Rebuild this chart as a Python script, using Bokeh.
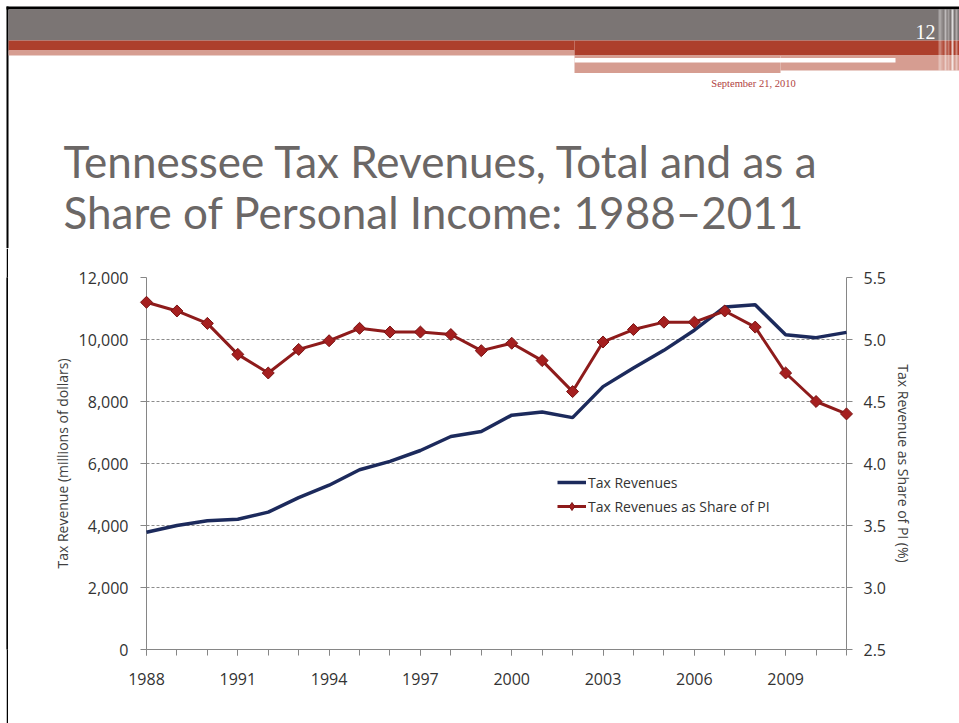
import math
from bokeh.plotting import figure
from bokeh.models import (Range1d, LinearAxis, FixedTicker, Legend, LegendItem,
                          NumeralTickFormatter, ColumnDataSource, Spacer)
from bokeh.layouts import column, row
from bokeh.embed import file_html
from bokeh.resources import INLINE
from bokeh.core.properties import value

# ---------------- data ----------------
years = list(range(1988, 2012))
tax_revenue = [3780, 4000, 4150, 4200, 4430, 4900, 5300, 5800, 6070, 6420, 6870, 7030,
               7560, 7660, 7480, 8480, 9080, 9650, 10300, 11050, 11120, 10150, 10060, 10230]
share_pi = [5.30, 5.23, 5.13, 4.88, 4.73, 4.92, 4.99, 5.09, 5.06, 5.06, 5.04, 4.91,
            4.97, 4.83, 4.58, 4.98, 5.08, 5.14, 5.14, 5.23, 5.10, 4.73, 4.50, 4.40]
x_tick_years = [1988, 1991, 1994, 1997, 2000, 2003, 2006, 2009]
left_ticks = [0, 2000, 4000, 6000, 8000, 10000, 12000]
right_ticks = [2.5, 3.0, 3.5, 4.0, 4.5, 5.0, 5.5]
title_lines = ["Tennessee Tax Revenues, Total and as a", "Share of Personal Income:  1988\u20132011"]
slide_number = "12"
slide_date = "September 21, 2010"
series_names = ["Tax Revenues", "Tax Revenues as Share of PI"]
left_title = "Tax Revenue (millions of dollars)"
right_title = "Tax Revenue as Share of PI (%)"

FONT = "Open Sans"
W = 959
HDR_H = 248
CH_H = 723 - HDR_H

# ---------------- header (slide decoration + title) ----------------
hdr = figure(width=W, height=HDR_H, x_range=Range1d(0, W), y_range=Range1d(HDR_H, 0),
             output_backend="svg", toolbar_location=None, min_border=0,
             x_axis_location=None, y_axis_location=None, outline_line_color=None)
hdr.grid.visible = False

def band(l, r, t, b, color, alpha=1.0):
    hdr.quad(left=l, right=r, top=t, bottom=b, fill_color=color, line_color=None, fill_alpha=alpha)

band(6, W, 6, 9, "#000000")
band(6, 8, 6, HDR_H, "#000000")
band(8, W, 9, 40, "#7b7574")
band(8, 574, 40, 50, "#ad3f2c")
band(8, 574, 50, 55, "#d69d91")
band(574, W, 40, 55, "#ad3f2c")
band(574, 780, 55, 72.5, "#d69d91")
band(780, W, 55, 70, "#d69d91")
band(574, 895, 57.5, 62, "#ffffff")
# right-edge stripes
for sx, sw, a in [(938, 3, 0.35), (941, 2, 0.15), (944, 2, 0.5), (947, 2, 0.3),
                  (951, 2, 0.75), (955, 2, 0.4)]:
    band(sx, sx + sw, 9, 70, "#ffffff", a)

hdr.text(x=[935], y=[31], text=[slide_number], text_color="#ffffff",
         text_font=value("Liberation Serif"), text_font_size="20px",
         text_align="right", text_baseline="middle")
hdr.text(x=[753], y=[83], text=[slide_date], text_color="#b0413e",
         text_font=value("Liberation Serif"), text_font_size="10.5px",
         text_align="center", text_baseline="middle")
hdr.text(x=[63, 63], y=[160, 211.5], text=title_lines, text_color="#6b6766",
         text_font=value("Lato"), text_font_size="44px",
         text_align="left", text_baseline="alphabetic")

# ---------------- chart ----------------
p = figure(width=951, height=CH_H, x_range=Range1d(1988, 2011), y_range=Range1d(0, 12000),
           output_backend="svg", toolbar_location=None,
           min_border_left=138, min_border_right=113, min_border_top=29, min_border_bottom=74,
           outline_line_color=None)
p.extra_y_ranges = {"share": Range1d(2.5, 5.5)}

AX = "#868686"
TICK_COLOR = "#333333"

xa = p.xaxis[0]
xa.ticker = FixedTicker(ticks=x_tick_years, minor_ticks=years)
xa.axis_line_color = AX
xa.major_tick_line_color = AX
xa.minor_tick_line_color = AX
xa.major_tick_in = 0
xa.major_tick_out = 6
xa.minor_tick_in = 0
xa.minor_tick_out = 6
xa.major_label_standoff = 17
xa.major_label_text_font = FONT
xa.major_label_text_font_size = "16px"
xa.major_label_text_color = TICK_COLOR

ya = p.yaxis[0]
ya.ticker = FixedTicker(ticks=left_ticks)
ya.formatter = NumeralTickFormatter(format="0,0")
ya.axis_line_color = AX
ya.major_tick_line_color = AX
ya.minor_tick_line_color = None
ya.major_tick_in = 0
ya.major_tick_out = 6
ya.major_label_standoff = 12
ya.major_label_text_font = FONT
ya.major_label_text_font_size = "16px"
ya.major_label_text_color = TICK_COLOR
ya.axis_label = left_title
ya.axis_label_text_font = FONT
ya.axis_label_text_font_size = "14px"
ya.axis_label_text_font_style = "normal"
ya.axis_label_text_color = "#404040"
ya.axis_label_standoff = 4

ra = LinearAxis(y_range_name="share", ticker=FixedTicker(ticks=right_ticks),
                formatter=NumeralTickFormatter(format="0.0"))
ra.axis_line_color = AX
ra.major_tick_line_color = AX
ra.minor_tick_line_color = None
ra.major_tick_in = 0
ra.major_tick_out = 6
ra.major_label_standoff = 11
ra.major_label_text_font = FONT
ra.major_label_text_font_size = "16px"
ra.major_label_text_color = TICK_COLOR
ra.axis_label = right_title
ra.axis_label_text_font = FONT
ra.axis_label_text_font_size = "14px"
ra.axis_label_text_font_style = "normal"
ra.axis_label_text_color = "#404040"
ra.axis_label_standoff = 5
p.add_layout(ra, "right")

p.xgrid.visible = False
p.ygrid.ticker = FixedTicker(ticks=left_ticks[1:])
p.ygrid.grid_line_color = "#8c8c8c"
p.ygrid.grid_line_dash = "3 2"
p.ygrid.grid_line_width = 1

src = ColumnDataSource(dict(year=years, rev=tax_revenue, share=share_pi))
blue = p.line("year", "rev", source=src, line_color="#1c2a5c", line_width=3.5, level="overlay")
red_line = p.line("year", "share", source=src, y_range_name="share",
                  line_color="#8e1b1b", line_width=3, level="overlay")
# diamond markers (hidden under the rotated squares; used as the legend swatch,
# since legend glyphs ignore a marker's angle)
red_key = p.scatter("year", "share", source=src, y_range_name="share", marker="diamond",
                    size=10, fill_color="#a51f1f", line_color="#7a1515", line_width=1)
red_pts = p.scatter("year", "share", source=src, y_range_name="share", marker="square",
                    angle=math.pi / 4, size=8.5, fill_color="#a51f1f", line_color="#7a1515",
                    line_width=1, level="overlay")

legend = Legend(items=[LegendItem(label=series_names[0], renderers=[blue]),
                       LegendItem(label=series_names[1], renderers=[red_line, red_key])],
                location=(411, 133), orientation="vertical")
legend.background_fill_alpha = 0
legend.border_line_color = None
legend.padding = 0
legend.margin = 0
legend.spacing = 4
legend.glyph_width = 29
legend.glyph_height = 20
legend.label_height = 20
legend.label_standoff = 2
legend.label_text_font = FONT
legend.label_text_font_size = "14px"
legend.label_text_color = "#333333"
p.add_layout(legend)

strip = figure(width=2, height=CH_H, x_range=Range1d(0, 1), y_range=Range1d(0, 1),
               output_backend="svg", toolbar_location=None, min_border=0,
               x_axis_location=None, y_axis_location=None, outline_line_color=None,
               background_fill_color="#000000", border_fill_color="#000000")
strip.grid.visible = False
strip.quad(left=[0], right=[1], top=[1], bottom=[0], fill_color="#000000", line_color=None)

layout = column(hdr, row(Spacer(width=6, height=CH_H), strip, p))
open("out.html", "w").write(file_html(layout, INLINE))
